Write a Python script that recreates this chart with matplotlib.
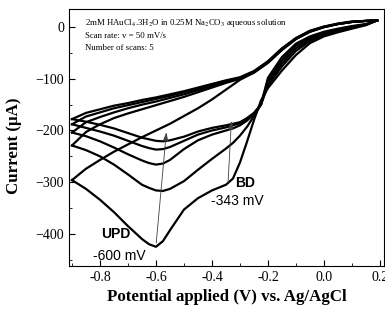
import matplotlib as mpl

mpl.use("Agg")

import matplotlib.pyplot as plt
from matplotlib.ticker import MultipleLocator

plt.rcParams.update({
    "font.family": "Liberation Serif",
    "mathtext.fontset": "stix",
})

# cathodic sweeps (0.19 V -> -0.9 V)
pot_cath = [0.19, 0.15, 0.10, 0.05, 0.00, -0.05, -0.10, -0.15, -0.20, -0.225,
            -0.25, -0.275, -0.30, -0.325, -0.35, -0.40, -0.45, -0.50, -0.55,
            -0.575, -0.60, -0.625, -0.65, -0.70, -0.75, -0.80, -0.85, -0.90]
cath_1 = [13, 4, -3, -10, -18, -31, -54, -84, -118, -142, -180, -222, -262, -293,
          -305, -316, -331, -353, -393, -414, -425, -420, -410, -385, -358, -334, -313, -296]
cath_2 = [13, 4, -2, -8, -15, -27, -46, -76, -113, -150, -172, -193, -210, -224,
          -235, -255, -276, -298, -313, -317, -316, -311, -305, -285, -266, -250, -238, -229]
cath_3 = [13, 5, 0, -6, -13, -24, -41, -70, -108, -150, -168, -181, -190, -196,
          -200, -208, -219, -236, -257, -264, -266, -263, -258, -246, -233, -221, -211, -204]
cath_4 = [13, 5, 1, -5, -11, -21, -36, -64, -103, -150, -167, -178, -186, -190,
          -194, -200, -208, -220, -232, -236, -237, -234, -230, -220, -210, -202, -195, -188]
cath_5 = [13, 6, 2, -3, -9, -18, -32, -58, -98, -150, -166, -176, -184, -187,
          -190, -195, -202, -212, -219, -221, -220, -217, -214, -205, -196, -189, -183, -178]

# anodic sweeps (-0.9 V -> 0.19 V)
pot_anod = [-0.90, -0.85, -0.80, -0.75, -0.70, -0.65, -0.60, -0.55, -0.50, -0.45,
            -0.40, -0.35, -0.30, -0.25, -0.20, -0.15, -0.10, -0.05, 0.00, 0.05,
            0.10, 0.15, 0.19]
anod_1 = [-296, -274, -257, -241, -227, -213, -200, -187, -172, -157, -140, -121,
          -102, -88, -69, -44, -23, -9, 0, 6, 10, 12, 13]
anod_2 = [-229, -203, -188, -176, -167, -159, -151, -143, -135, -126, -117, -108,
          -100, -88, -69, -44, -23, -9, 0, 6, 10, 12, 13]
anod_3 = [-204, -184, -174, -165, -157, -150, -144, -137, -130, -122, -114, -106,
          -99, -87, -68, -43, -22, -8, 0, 6, 10, 12, 13]
anod_4 = [-188, -173, -165, -157, -151, -145, -139, -133, -126, -119, -111, -104,
          -98, -86, -67, -42, -22, -8, 1, 6, 10, 12, 13]
anod_5 = [-178, -166, -159, -152, -147, -141, -136, -130, -124, -117, -110, -103,
          -97, -85, -66, -41, -21, -7, 1, 7, 11, 12, 13]

cathodic = [cath_1, cath_2, cath_3, cath_4, cath_5]
anodic = [anod_1, anod_2, anod_3, anod_4, anod_5]

fig = plt.figure(figsize=(3.85, 3.11), dpi=100)
ax = fig.add_axes([0.179, 0.145, 0.818, 0.826])

for c, a in zip(cathodic, anodic):
    ax.plot(pot_cath, c, color="black", lw=1.6, solid_joinstyle="round")
    ax.plot(pot_anod, a, color="black", lw=1.6, solid_joinstyle="round")

ax.set_xlim(-0.911, 0.214)
ax.set_ylim(-462, 35)
ax.xaxis.set_major_locator(MultipleLocator(0.2))
ax.xaxis.set_minor_locator(MultipleLocator(0.1))
ax.yaxis.set_major_locator(MultipleLocator(100))
ax.yaxis.set_minor_locator(MultipleLocator(50))
ax.tick_params(which="both", direction="in", labelsize=10)
ax.tick_params(which="major", length=4)
ax.tick_params(which="minor", length=2)
ax.set_xticklabels([f"{v:.1f}" if abs(v) > 1e-9 else "0.0" for v in ax.get_xticks()])

ax.set_xlabel("Potential applied (V) vs. Ag/AgCl", fontsize=12.2, fontweight="bold")
ax.set_ylabel("Current (\u03bcA)", fontsize=12.2, fontweight="bold")
ax.yaxis.set_label_coords(-0.149, 0.467)

ax.text(0.05, 0.9455, r"2mM HAuCl$_4$.3H$_2$O in 0.25M Na$_2$CO$_3$ aqueous solution",
        transform=ax.transAxes, fontsize=6.3, va="center")
ax.text(0.05, 0.895, "Scan rate: v = 50 mV/s", transform=ax.transAxes, fontsize=6.3, va="center")
ax.text(0.05, 0.848, "Number of scans: 5", transform=ax.transAxes, fontsize=6.3, va="center")

arrow = dict(arrowstyle="-|>,head_length=0.5,head_width=0.15", lw=0.6, color="0.25")
ax.annotate("", xy=(-0.562, -198), xytext=(-0.6, -423), arrowprops=arrow)
ax.annotate("", xy=(-0.33, -176), xytext=(-0.343, -306), arrowprops=arrow)

ax.text(-0.745, -400, "UPD", family="Liberation Sans", fontweight="bold", fontsize=10,
        ha="center", va="center")
ax.text(-0.73, -442, "-600 mV", family="Liberation Sans", fontsize=10, ha="center", va="center")
ax.text(-0.28, -302, "BD", family="Liberation Sans", fontweight="bold", fontsize=10,
        ha="center", va="center")
ax.text(-0.31, -337, "-343 mV", family="Liberation Sans", fontsize=10, ha="center", va="center")

plt.savefig("out.png", dpi=100)
plt.close()
